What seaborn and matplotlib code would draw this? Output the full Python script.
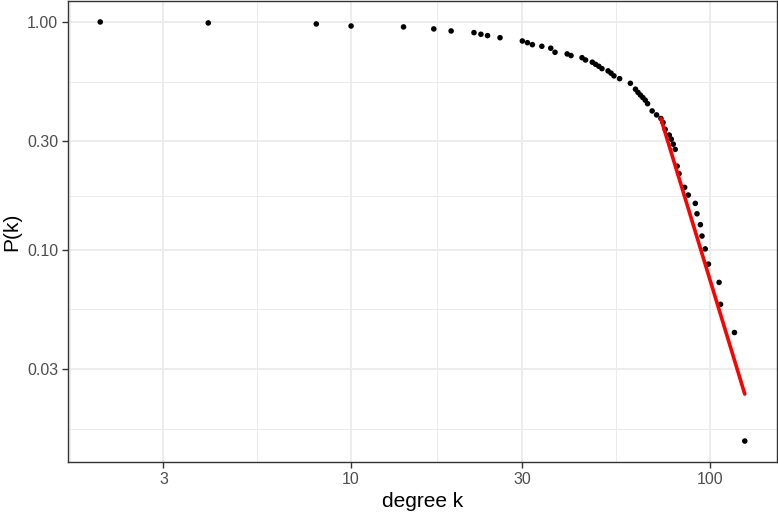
import numpy as np
import pandas as pd
import matplotlib
matplotlib.use("Agg")
import matplotlib.pyplot as plt
import seaborn as sns
from matplotlib.ticker import FixedLocator, FixedFormatter, NullFormatter

# --- DATA ---
degree = [2, 4, 8, 10, 14, 17, 19, 22, 23, 24, 26, 30, 31, 32, 34, 36, 37,
          40, 41, 44, 45, 47, 48, 49, 50, 52, 53, 54, 56, 60, 62, 63, 64, 65,
          66, 67, 69, 71, 73, 74, 75, 77, 78, 79, 80, 81, 82, 85, 87, 91, 92,
          94, 95, 97, 99, 106, 107, 117, 125]
prob = [1.000, 0.990, 0.980, 0.960, 0.951, 0.932, 0.913, 0.898, 0.883, 0.871,
        0.853, 0.825, 0.811, 0.795, 0.782, 0.767, 0.736, 0.724, 0.712, 0.697,
        0.681, 0.666, 0.652, 0.639, 0.624, 0.610, 0.596, 0.580, 0.564, 0.538,
        0.507, 0.491, 0.478, 0.466, 0.454, 0.438, 0.407, 0.391, 0.377, 0.362,
        0.338, 0.319, 0.306, 0.291, 0.276, 0.233, 0.216, 0.188, 0.174, 0.160,
        0.144, 0.129, 0.115, 0.101, 0.0866, 0.0720, 0.0577, 0.0434, 0.0145]

# power-law tail fit (parameters of the red line)
fit_kmin = 73
fit_kmax = 125
fit_p_kmin = 0.376
fit_alpha = 5.17

x_breaks = [3, 10, 30, 100]
x_labels = ["3", "10", "30", "100"]
y_breaks = [0.03, 0.10, 0.30, 1.00]
y_labels = ["0.03", "0.10", "0.30", "1.00"]

df = pd.DataFrame({"k": degree, "P": prob})
k_fit = np.array([fit_kmin, fit_kmax], dtype=float)
fit_df = pd.DataFrame({"k": k_fit, "P": fit_p_kmin * (k_fit / fit_kmin) ** (-fit_alpha)})

# --- STYLE (ggplot theme_bw look) ---
sns.set_theme(style="white")
plt.rcParams["font.family"] = ["Liberation Sans", "DejaVu Sans"]

fig = plt.figure(figsize=(7.78, 5.14), dpi=100)
ax = fig.add_axes([68 / 778, 1 - 462 / 514, (777 - 68) / 778, (462 - 1) / 514])

ax.set_xscale("log")
ax.set_yscale("log")

# limits with 5% expansion in log space, like ggplot
lx = np.log10([min(degree), max(degree)])
ly = np.log10([min(prob), max(prob)])
ex, ey = 0.05 * np.diff(lx)[0], 0.05 * np.diff(ly)[0]
ax.set_xlim(10 ** (lx[0] - ex), 10 ** (lx[1] + ex))
ax.set_ylim(10 ** (ly[0] - ey), 10 ** (ly[1] + ey))

# minor breaks: geometric midpoints between majors
def minor_breaks(br, lo, hi):
    b = np.log10(br)
    d = b[1] - b[0]
    b = np.concatenate([[b[0] - d], b, [b[-1] + d]])
    m = 10 ** ((b[:-1] + b[1:]) / 2)
    return [v for v in m if lo < v < hi]

xlo, xhi = ax.get_xlim()
ylo, yhi = ax.get_ylim()
ax.xaxis.set_major_locator(FixedLocator(x_breaks))
ax.xaxis.set_major_formatter(FixedFormatter(x_labels))
ax.xaxis.set_minor_locator(FixedLocator(minor_breaks(x_breaks, xlo, xhi)))
ax.xaxis.set_minor_formatter(NullFormatter())
ax.yaxis.set_major_locator(FixedLocator(y_breaks))
ax.yaxis.set_major_formatter(FixedFormatter(y_labels))
ax.yaxis.set_minor_locator(FixedLocator(minor_breaks(y_breaks, ylo, yhi)))
ax.yaxis.set_minor_formatter(NullFormatter())

ax.grid(True, which="major", color="#EBEBEB", linewidth=1.3)
ax.grid(True, which="minor", color="#EBEBEB", linewidth=0.7)
ax.set_axisbelow(True)

sns.scatterplot(data=df, x="k", y="P", ax=ax, color="black", s=16,
                edgecolor="none", zorder=3)
sns.lineplot(data=fit_df, x="k", y="P", ax=ax, color="red", linewidth=2.6,
             zorder=4)

for sp in ax.spines.values():
    sp.set_color("#333333")
    sp.set_linewidth(1.0)

ax.tick_params(axis="both", which="major", length=4, width=1.0, color="#333333",
               labelcolor="#4D4D4D", labelsize=11.5, pad=3, bottom=True, left=True)
ax.tick_params(axis="both", which="minor", length=0)

ax.set_xlabel("degree k", fontsize=15, color="black", labelpad=4)
ax.set_ylabel("P(k)", fontsize=15, color="black", labelpad=4)

fig.savefig("out.png", dpi=100)
